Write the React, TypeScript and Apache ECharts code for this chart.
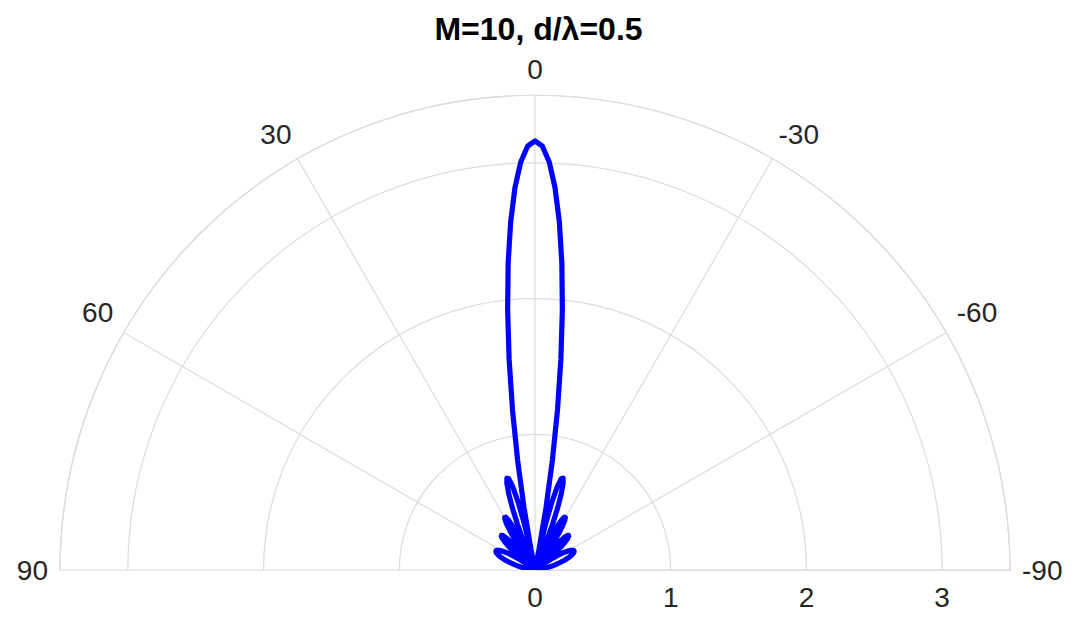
import React, { useEffect, useRef } from "react";
import * as echarts from "echarts";

const angleDeg: number[] = [
  -90, -89, -88, -87, -86, -85, -84, -83, -82, -81, -80, -79, -78, -77, -76, -75, -74, -73, -72, -71,
  -70, -69, -68, -67, -66, -65, -64, -63, -62, -61, -60, -59, -58, -57, -56, -55, -54, -53.13, -53, -52,
  -51, -50, -49, -48, -47, -46, -45, -44, -43, -42, -41, -40, -39, -38, -37, -36.87, -36, -35, -34, -33,
  -32, -31, -30, -29, -28, -27, -26, -25, -24, -23.58, -23, -22, -21, -20, -19, -18, -17, -16, -15, -14,
  -13, -12, -11.54, -11, -10, -9, -8, -7, -6, -5, -4, -3, -2, -1,
  0, 1, 2, 3, 4, 5, 6, 7, 8, 9, 10, 11, 11.54, 12, 13, 14, 15, 16, 17, 18, 19, 20, 21, 22, 23, 23.58,
  24, 25, 26, 27, 28, 29, 30, 31, 32, 33, 34, 35, 36, 36.87, 37, 38, 39, 40, 41, 42, 43, 44, 45, 46,
  47, 48, 49, 50, 51, 52, 53, 53.13, 54, 55, 56, 57, 58, 59, 60, 61, 62, 63, 64, 65, 66, 67, 68, 69,
  70, 71, 72, 73, 74, 75, 76, 77, 78, 79, 80, 81, 82, 83, 84, 85, 86, 87, 88, 89, 90,
];

// |AF| magnitude at each angle
const arrayFactor: number[] = [
  0, 0.001, 0.003, 0.007, 0.012, 0.019, 0.027, 0.037, 0.048, 0.061, 0.075, 0.09, 0.106, 0.124, 0.142,
  0.161, 0.181, 0.201, 0.221, 0.24, 0.258, 0.275, 0.29, 0.302, 0.312, 0.318, 0.32, 0.318, 0.31, 0.297,
  0.278, 0.254, 0.223, 0.187, 0.145, 0.098, 0.047,
  0,
  0.007, 0.063, 0.118, 0.172, 0.223, 0.268, 0.305, 0.334, 0.351, 0.355, 0.346, 0.323, 0.284, 0.232,
  0.168, 0.094, 0.011,
  0,
  0.076, 0.163, 0.246, 0.32, 0.381, 0.425, 0.447, 0.445, 0.417, 0.363, 0.282, 0.179, 0.056,
  0,
  0.08, 0.221, 0.36, 0.489, 0.595, 0.671, 0.708, 0.699, 0.638, 0.522, 0.349, 0.122,
  0,
  0.154, 0.472, 0.82, 1.191, 1.565, 1.929, 2.27, 2.571, 2.821, 3.008, 3.123,
  3.162,
  3.123, 3.008, 2.821, 2.571, 2.27, 1.929, 1.565, 1.191, 0.82, 0.472, 0.154,
  0,
  0.122, 0.349, 0.522, 0.638, 0.699, 0.708, 0.671, 0.595, 0.489, 0.36, 0.221, 0.08,
  0,
  0.056, 0.179, 0.282, 0.363, 0.417, 0.445, 0.447, 0.425, 0.381, 0.32, 0.246, 0.163, 0.076,
  0,
  0.011, 0.094, 0.168, 0.232, 0.284, 0.323, 0.346, 0.355, 0.351, 0.334, 0.305, 0.268, 0.223, 0.172,
  0.118, 0.063, 0.007,
  0,
  0.047, 0.098, 0.145, 0.187, 0.223, 0.254, 0.278, 0.297, 0.31, 0.318, 0.32, 0.318, 0.312, 0.302,
  0.29, 0.275, 0.258, 0.24, 0.221, 0.201, 0.181, 0.161, 0.142, 0.124, 0.106, 0.09, 0.075, 0.061,
  0.048, 0.037, 0.027, 0.019, 0.012, 0.007, 0.003, 0.001, 0,
];

const titleText = "M=10, d/\u03bb=0.5";
const angleTicks = { min: -90, max: 90, interval: 30 };
const radiusTicks = { min: 0, max: 3.5, interval: 1 };

const FONT = "'Liberation Sans', Arial, Helvetica, sans-serif";
const GRID = "#dcdcdc";
const LABEL = "#262626";

export default function App() {
  const ref = useRef<HTMLDivElement>(null);

  useEffect(() => {
    if (!ref.current) return;
    const chart = echarts.init(ref.current, undefined, { renderer: "svg" });
    const data = angleDeg.map((a, i) => [arrayFactor[i], a]);
    chart.setOption({
      animation: false,
      backgroundColor: "#ffffff",
      title: {
        text: titleText,
        left: "center",
        top: 8,
        textStyle: { fontSize: 32, fontWeight: "bold", color: "#000", fontFamily: FONT },
      },
      polar: { center: [535, 570], radius: 475 },
      angleAxis: {
        type: "value",
        min: angleTicks.min,
        max: angleTicks.max,
        interval: angleTicks.interval,
        startAngle: 0,
        endAngle: 180,
        clockwise: false,
        axisLine: { show: true, lineStyle: { color: GRID, width: 1.2 } },
        axisTick: { show: false },
        axisLabel: { fontSize: 28, color: LABEL, margin: 12, fontFamily: FONT },
        splitLine: { show: true, lineStyle: { color: GRID, width: 1.2 } },
      },
      radiusAxis: {
        type: "value",
        min: radiusTicks.min,
        max: radiusTicks.max,
        interval: radiusTicks.interval,
        axisLine: { show: true, lineStyle: { color: GRID, width: 1.2 } },
        axisTick: { show: false },
        axisLabel: {
          fontSize: 28,
          color: LABEL,
          margin: -41,
          fontFamily: FONT,
          showMaxLabel: false,
        },
        splitLine: { show: true, lineStyle: { color: GRID, width: 1.2 } },
      },
      series: [
        {
          type: "line",
          coordinateSystem: "polar",
          data,
          showSymbol: false,
          smooth: false,
          lineStyle: { color: "#0000ff", width: 5.2, join: "round", cap: "round" },
          itemStyle: { color: "#0000ff" },
        },
      ],
    });
    return () => chart.dispose();
  }, []);

  return (
    <div
      ref={ref}
      style={{ position: "fixed", left: 0, top: 0, width: 1077, height: 618, background: "#fff" }}
    />
  );
}
